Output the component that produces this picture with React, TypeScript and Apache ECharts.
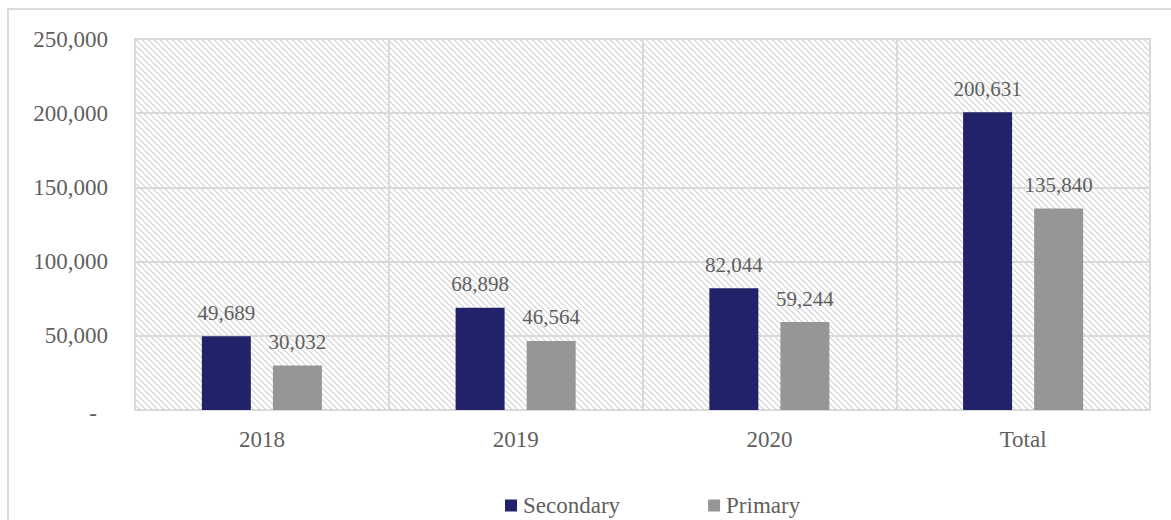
import React, { useEffect, useRef } from "react";
import * as echarts from "echarts";

const categories = ["2018", "2019", "2020", "Total"];
const secondaryValues = [49689, 68898, 82044, 200631];
const primaryValues = [30032, 46564, 59244, 135840];
const seriesNames = ["Secondary", "Primary"];

const FONT = "'Liberation Serif', 'Times New Roman', serif";
const TEXT = "#5f5f5f";
const GRIDC = "#d9d9d9";

function makeHatch(): HTMLCanvasElement {
  const c = document.createElement("canvas");
  c.width = 6;
  c.height = 6;
  const ctx = c.getContext("2d")!;
  ctx.fillStyle = "#ffffff";
  ctx.fillRect(0, 0, 6, 6);
  for (let y = 0; y < 6; y++) {
    for (let x = 0; x < 6; x++) {
      const d = (((x - y) % 6) + 6) % 6;
      if (d === 0) {
        ctx.fillStyle = "#d4d4d4";
        ctx.fillRect(x, y, 1, 1);
      } else if (d === 1) {
        ctx.fillStyle = "#e6e6e6";
        ctx.fillRect(x, y, 1, 1);
      }
    }
  }
  return c;
}

export default function App() {
  const ref = useRef<HTMLDivElement>(null);
  useEffect(() => {
    if (!ref.current) return;
    const chart = echarts.init(ref.current, null, { renderer: "svg" });
    const fmt = (v: number) => v.toLocaleString("en-US");
    const labelCfg = {
      show: true,
      position: "top",
      distance: 13,
      formatter: (p: any) => fmt(p.value),
      fontFamily: FONT,
      fontSize: 21,
      color: TEXT,
    };
    chart.setOption({
      animation: false,
      textStyle: { fontFamily: FONT },
      grid: {
        left: 127,
        top: 31,
        right: 21,
        bottom: 111,
        show: true,
        backgroundColor: { image: makeHatch(), repeat: "repeat" },
        borderColor: GRIDC,
        borderWidth: 2,
      },
      legend: {
        data: seriesNames,
        left: 492,
        top: 481,
        itemWidth: 12,
        itemHeight: 12,
        itemGap: 88,
        icon: "rect",
        textStyle: { fontFamily: FONT, fontSize: 23, color: TEXT, padding: [0, 0, 0, 1] },
      },
      xAxis: {
        type: "category",
        data: categories,
        axisLine: { show: true, lineStyle: { color: GRIDC, width: 2 } },
        axisTick: { show: false },
        splitLine: { show: true, lineStyle: { color: GRIDC, width: 2 } },
        axisLabel: { fontFamily: FONT, fontSize: 23, color: TEXT, margin: 18 },
      },
      yAxis: {
        type: "value",
        min: 0,
        max: 250000,
        interval: 50000,
        axisLine: { show: false },
        axisTick: { show: false },
        splitLine: { show: true, lineStyle: { color: GRIDC, width: 2 } },
        axisLabel: {
          fontFamily: FONT,
          fontSize: 23,
          color: TEXT,
          margin: 27,
          formatter: (v: number) => (v === 0 ? "{dash|-}" : fmt(v)),
          rich: { dash: { fontFamily: FONT, fontSize: 23, color: TEXT, padding: [6, 11, 0, 0] } },
        },
      },
      series: [
        {
          name: seriesNames[0],
          type: "bar",
          data: secondaryValues,
          barWidth: 49,
          barGap: "45%",
          itemStyle: { color: "#22226a" },
          label: labelCfg,
        },
        {
          name: seriesNames[1],
          type: "bar",
          data: primaryValues,
          barWidth: 49,
          itemStyle: { color: "#969696" },
          label: labelCfg,
        },
      ],
    });
    return () => chart.dispose();
  }, []);
  return (
    <div
      style={{
        position: "absolute",
        left: 7,
        top: 8,
        width: 1190,
        height: 540,
        border: "2px solid #dcdcdc",
        boxSizing: "border-box",
        background: "#fff",
      }}
    >
      <div ref={ref} style={{ position: "absolute", left: -1, top: -2, width: 1163, height: 513 }} />
    </div>
  );
}
